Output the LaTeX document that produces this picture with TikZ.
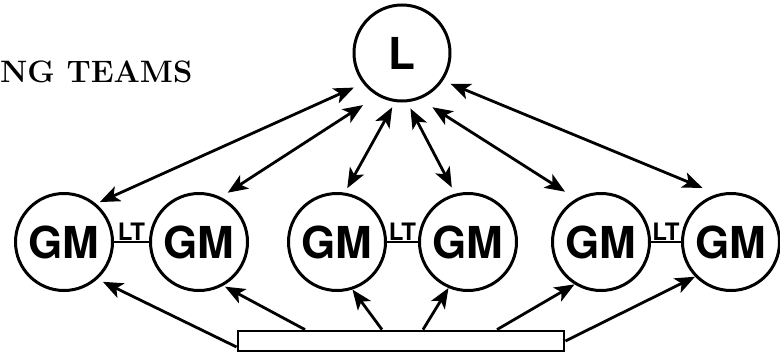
\documentclass[tikz,border=0pt]{standalone}
\usepackage{fontspec}
\newfontfamily\gmfont{TeX Gyre Heros}
\usetikzlibrary{arrows.meta}
\usetikzlibrary{calc}

\begin{document}
\begin{tikzpicture}[x=1pt, y=-1pt,
        member/.style={circle, draw, line width=3pt, minimum size=97pt, inner sep=0pt,
                       font=\gmfont\bfseries\fontsize{44}{44}\selectfont},
        link/.style={line width=2.8pt, {Stealth[length=20pt,width=16pt,inset=5pt]}-{Stealth[length=20pt,width=16pt,inset=5pt]}},
        feed/.style={line width=2.8pt, -{Stealth[length=20pt,width=16pt,inset=5pt]}}]
        \useasboundingbox (0,0) rectangle (780,356);
        \node[anchor=base west, inner sep=0pt, font=\bfseries\fontsize{31}{36}\selectfont] (title) at (0,82) {NG TEAMS};
        \node[member, minimum size=96pt] (L) at (402,53) {L};
        \foreach \x [count=\c] in {64,199,337,468,601,731} {
           \node[member] (g\c) at (\x,242) {GM};
        }
        \foreach \a/\b in {1/2,3/4,5/6} {
           \draw[line width=2.8pt] (g\a) -- node[above, inner sep=0.5pt, font=\gmfont\bfseries\fontsize{24}{24}\selectfont] {LT} (g\b);
        }
        \node[draw, line width=2.8pt, minimum width=326pt, minimum height=20pt, inner sep=0pt] (base) at (401,341) {};
        \foreach \c/\p/\q/\s/\t in {1/218/50/10/4, 2/240/64/17/8, 3/262/81/6/5,
                                     4/276/105/7/7, 5/291/120/15/13, 6/326/106/8/16} {
           \draw[link, shorten <=\s pt, shorten >=\t pt] (L.\p) -- (g\c.\q);
        }
        \draw[feed, shorten >=6pt] ([yshift=-6pt]base.west) -- (g1.312);
        \foreach \c/\o/\q/\t in {2/-96/299/2, 3/-19/288/0, 4/22/247/0, 5/96/238/0} {
           \draw[feed, shorten >=\t pt] ([xshift=\o pt]base.north) -- (g\c.\q);
        }
        \draw[feed] (base.east) -- (g6.224);
\end{tikzpicture}
\end{document}
